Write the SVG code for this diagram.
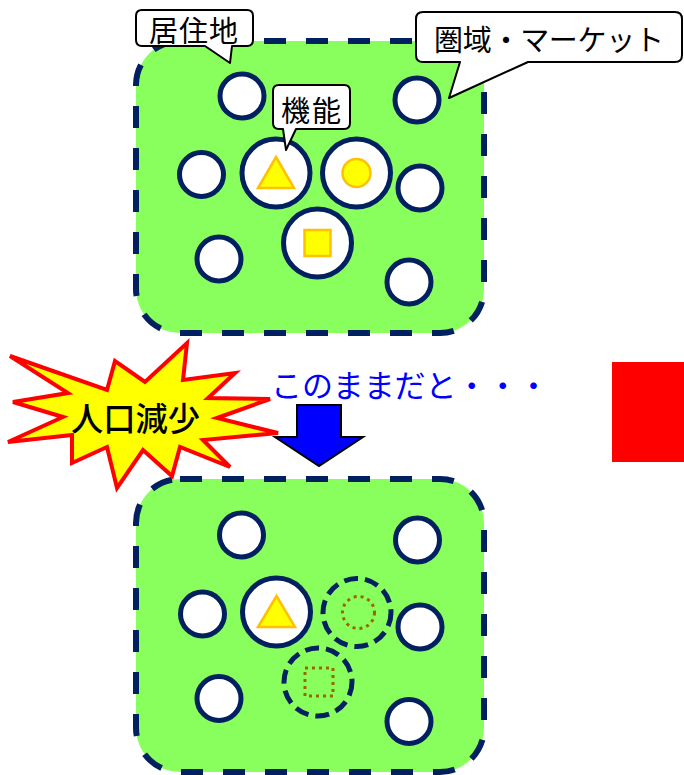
<svg xmlns="http://www.w3.org/2000/svg" width="684" height="775" viewBox="0 0 684 775">
<style>
.area{fill:#88FF5C;stroke:#002060;stroke-width:6;stroke-dasharray:22 20}
.sc{fill:#FFFFFF;stroke:#002060;stroke-width:5}
.dc{fill:none;stroke:#002060;stroke-width:5;stroke-dasharray:14 7}
.yel{fill:#FFFF00;stroke:#FFC000;stroke-width:2.5}
.dot{fill:none;stroke:#996600;stroke-width:3;stroke-dasharray:3 4}
.call{fill:#FFFFFF;stroke:#000000;stroke-width:2;stroke-linejoin:round}
.lbl{font-family:"Noto Sans CJK JP","Noto Sans",sans-serif;font-size:29px;fill:#000000}
</style>
<rect width="684" height="775" fill="#FFFFFF"/>

<g id="area-before">
<rect class="area" x="136" y="41" width="348" height="292" rx="44" ry="44"/>
<circle class="sc" cx="242" cy="96" r="22"/>
<circle class="sc" cx="417" cy="100" r="22"/>
<circle class="sc" cx="201.5" cy="174.5" r="22"/>
<circle class="sc" cx="420" cy="188" r="22"/>
<circle class="sc" cx="219" cy="259" r="22"/>
<circle class="sc" cx="409" cy="282" r="22"/>
<circle class="sc" cx="276" cy="173" r="34"/>
<circle class="sc" cx="356.5" cy="173" r="34"/>
<circle class="sc" cx="317.5" cy="243" r="34"/>
<polygon class="yel" points="276,157 294,188 258,188"/>
<circle class="yel" cx="356.5" cy="173" r="14"/>
<rect class="yel" x="304.5" y="230" width="26" height="26"/>
</g>

<g id="area-after">
<rect class="area" x="136" y="479" width="348" height="293" rx="44" ry="44"/>
<circle class="sc" cx="241.5" cy="535" r="22"/>
<circle class="sc" cx="417.5" cy="540" r="22"/>
<circle class="sc" cx="202.5" cy="614" r="22"/>
<circle class="sc" cx="420" cy="627" r="22"/>
<circle class="sc" cx="219" cy="698.5" r="22"/>
<circle class="sc" cx="409" cy="721.5" r="22"/>
<circle class="sc" cx="276.5" cy="612" r="34"/>
<polygon class="yel" points="276.5,596 295,627 258,627"/>
<circle class="dc" cx="357" cy="612.5" r="34"/>
<circle class="dot" cx="358.5" cy="612.5" r="16"/>
<circle class="dc" cx="318" cy="682" r="34"/>
<rect class="dot" x="305" y="668" width="28" height="28"/>
</g>

<g id="callout-kyojuchi">
<path class="call" d="M142,10 H247 Q253,10 253,16 V40 Q253,46 247,46 H232 L230,63 L205,46 H142 Q136,46 136,40 V16 Q136,10 142,10 Z"/>
<text class="lbl" x="149" y="42" textLength="89" lengthAdjust="spacing">居住地</text>
</g>

<g id="callout-kenniki">
<path class="call" d="M423,12 H675 Q682,12 682,19 V55 Q682,62 675,62 H528 L449,98 L460,62 H423 Q416,62 416,55 V19 Q416,12 423,12 Z"/>
<text class="lbl" x="434" y="51" textLength="230" lengthAdjust="spacing">圏域・マーケット</text>
</g>

<g id="callout-kinou">
<path class="call" d="M279,85 H344 Q350,85 350,91 V123 Q350,129 344,129 H296 L286,150 L283,129 H279 Q273,129 273,123 V91 Q273,85 279,85 Z"/>
<text class="lbl" x="281" y="122" textLength="60" lengthAdjust="spacing">機能</text>
</g>

<g id="burst">
<polygon points="10,356 107,390 115,361 145,382 187,343 183,380 235,373 208,398 270,399 217,418 278,433 203,440 230,467 180,447 172,476 143,450 117,488 107,447 72,463 72,435 8,442 63,417 13,402 68,393" fill="#FFFF00" stroke="#FF0000" stroke-width="4" stroke-linejoin="miter"/>
<text x="71" y="431" font-family="'Noto Sans CJK JP','Noto Sans',sans-serif" font-size="33" font-weight="500" fill="#000000" textLength="129" lengthAdjust="spacingAndGlyphs">人口減少</text>
</g>

<g id="note">
<text x="271" y="397" font-family="'Noto Sans CJK JP','Noto Sans',sans-serif" font-size="31" fill="#0000FF" textLength="278" lengthAdjust="spacing">このままだと・・・</text>
</g>

<g id="connectors">
<polygon points="297,405 341,405 341,437 363,437 319,466 275,437 297,437" fill="#0000FF" stroke="#000000" stroke-width="2" stroke-linejoin="miter"/>
</g>

<g id="red-block">
<rect x="612" y="362" width="72" height="100" fill="#FF0000"/>
</g>
</svg>
